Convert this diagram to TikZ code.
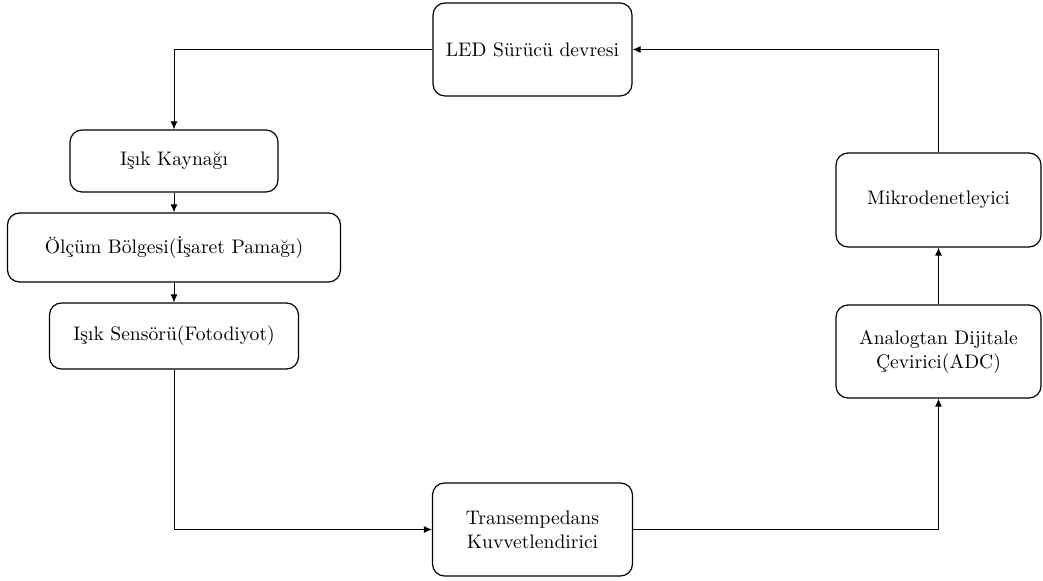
\documentclass[tikz,border=0pt]{standalone}
\usepackage{fontspec}
\usetikzlibrary{arrows.meta}
\tikzset{
	blok/.style={draw, line width=0.6pt, rounded corners=6pt, align=center, inner sep=0pt, font=\fontsize{9.8}{12}\selectfont},
	ok/.style={line width=0.5pt, -{Latex[length=4pt,width=3.5pt]}}
}

\begin{document}
\begin{tikzpicture}[x=0.5pt, y=-0.5pt]
			%%%%% START %%%%%
			
			\useasboundingbox (0, 0) rectangle (1043, 581);
			
			\node[blok, minimum width=99.5pt, minimum height=46.5pt] (led) at (532.5, 49.5) {LED Sürücü devresi};
			
			\node[blok, minimum width=104pt, minimum height=31pt] (kaynak) at (174, 161) {Işık Kaynağı};
			\node[blok, minimum width=166.5pt, minimum height=34.5pt] (olcum) at (174, 247.5) {Ölçüm Bölgesi(İşaret Pamağı)};
			\node[blok, minimum width=124.5pt, minimum height=33pt] (sensor) at (174, 336) {Işık Sensörü(Fotodiyot)};
			
			\node[blok, minimum width=100pt, minimum height=46.5pt] (trans) at (532.5, 529.5) {Transempedans\\Kuvvetlendirici};
			
			\node[blok, minimum width=102.5pt, minimum height=46.5pt] (adc) at (938.5, 351.5) {Analogtan Dijitale\\Çevirici(ADC)};
			\node[blok, minimum width=102.5pt, minimum height=47pt] (mikro) at (938.5, 200) {Mikrodenetleyici};
			
			\draw[ok] (led.west) -| (kaynak.north);
			\draw[ok] (kaynak.south) -- (olcum.north);
			\draw[ok] (olcum.south) -- (sensor.north);
			\draw[ok] (sensor.south) |- (trans.west);
			\draw[ok] (trans.east) -| (adc.south);
			\draw[ok] (adc.north) -- (mikro.south);
			\draw[ok] (mikro.north) |- (led.east);
			
			%%%%% END %%%%%
		\end{tikzpicture}
\end{document}
